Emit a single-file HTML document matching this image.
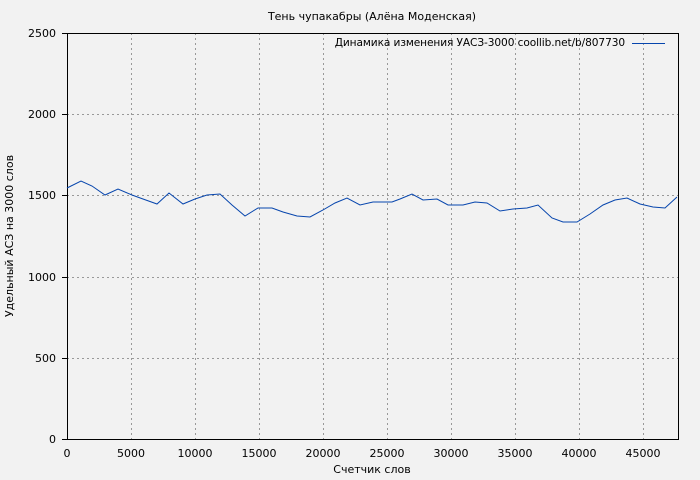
<!DOCTYPE html>
<html><head><meta charset="utf-8"><style>body{margin:0;background:#f2f2f2}svg{display:block}text{font-family:"DejaVu Sans","Liberation Sans",sans-serif;font-size:11px;fill:#000}</style></head><body>
<svg width="700" height="480" viewBox="0 0 700 480">
<rect width="700" height="480" fill="#f2f2f2"/>
<g stroke="#999" stroke-dasharray="2,3" stroke-width="1">
<line x1="131.5" y1="33" x2="131.5" y2="439"/><line x1="195.5" y1="33" x2="195.5" y2="439"/><line x1="259.5" y1="33" x2="259.5" y2="439"/><line x1="323.5" y1="33" x2="323.5" y2="439"/><line x1="387.5" y1="33" x2="387.5" y2="439"/><line x1="451.5" y1="33" x2="451.5" y2="439"/><line x1="515.5" y1="33" x2="515.5" y2="439"/><line x1="579.5" y1="33" x2="579.5" y2="439"/><line x1="643.5" y1="33" x2="643.5" y2="439"/>
<line x1="67" y1="114.5" x2="678" y2="114.5"/><line x1="67" y1="195.5" x2="678" y2="195.5"/><line x1="67" y1="277.5" x2="678" y2="277.5"/><line x1="67" y1="358.5" x2="678" y2="358.5"/>
</g>
<rect x="67.5" y="33.5" width="611" height="406" fill="none" stroke="#000"/>
<g stroke="#000"><line x1="62" y1="33.5" x2="67" y2="33.5"/><line x1="62" y1="114.5" x2="67" y2="114.5"/><line x1="62" y1="195.5" x2="67" y2="195.5"/><line x1="62" y1="277.5" x2="67" y2="277.5"/><line x1="62" y1="358.5" x2="67" y2="358.5"/><line x1="62" y1="439.5" x2="67" y2="439.5"/></g>
<polyline fill="none" stroke="#0645ad" stroke-width="1" points="67,188 81,181 92,186 105,195 118,189 132,195 143,199 157,204 169,193 183,204 195,199 207,195 220,194 232,205 245,216 258,208 272,208 283,212 297,216 310,217 323,210 335,203 347,198 360,205 373,202 380,202 392,202 400,199 412,194 423,200 437,199 448,205 463,205 475,202 487,203 500,211 513,209 527,208 538,205 552,218 563,222 577,222 590,214 603,205 615,200 627,198 640,204 653,207 665,208 677,197"/>
<text x="372" y="20" text-anchor="middle">Тень чупакабры (Алёна Моденская)</text>
<text x="625" y="46" text-anchor="end" style="font-size:10.6px;letter-spacing:-0.1px">Динамика изменения УАСЗ-3000 coollib.net/b/807730</text>
<line x1="632" y1="43.5" x2="665" y2="43.5" stroke="#0645ad"/>
<g text-anchor="end"><text x="56" y="37">2500</text><text x="56" y="118">2000</text><text x="56" y="199">1500</text><text x="56" y="281">1000</text><text x="56" y="362">500</text><text x="56" y="443">0</text></g>
<g text-anchor="middle"><text x="67" y="457">0</text><text x="131" y="457">5000</text><text x="195" y="457">10000</text><text x="259" y="457">15000</text><text x="323" y="457">20000</text><text x="387" y="457">25000</text><text x="451" y="457">30000</text><text x="515" y="457">35000</text><text x="579" y="457">40000</text><text x="643" y="457">45000</text></g>
<text x="372" y="473" text-anchor="middle">Счетчик слов</text>
<text transform="translate(13,236) rotate(-90)" text-anchor="middle">Удельный АСЗ на 3000 слов</text>
</svg></body></html>
